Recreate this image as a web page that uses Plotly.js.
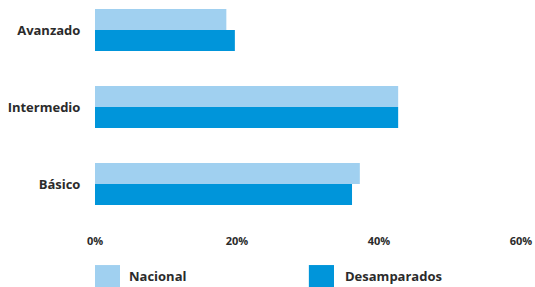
<!DOCTYPE html>
<html>
<head>
<meta charset="utf-8">
<script src="https://cdn.plot.ly/plotly-3.0.1.min.js"></script>
<style>html,body{margin:0;padding:0;background:#fff;}#chart{width:535px;height:287px;}</style>
</head>
<body>
<div id="chart"></div>
<script>
const categories = ['Avanzado', 'Intermedio', 'Básico'];
const seriesNames = ['Nacional', 'Desamparados'];
const nacional = [18.5, 42.7, 37.3];
const desamparados = [19.7, 42.7, 36.2];
const tickVals = [0, 20, 40, 60];
const tickText = ['0%', '20%', '40%', '60%'];
const colors = ['#a0d0f0', '#0095da'];

const fontFam = '"Open Sans", sans-serif';
const traces = [
  {type: 'bar', orientation: 'h', y: categories, x: nacional, name: seriesNames[0],
   marker: {color: colors[0]}, hoverinfo: 'skip', showlegend: false},
  {type: 'bar', orientation: 'h', y: categories, x: desamparados, name: seriesNames[1],
   marker: {color: colors[1]}, hoverinfo: 'skip', showlegend: false}
];

const legendX = [[0, 0.0587, 0.0751], [0.502, 0.561, 0.582]];
const shapes = [], annotations = [];
seriesNames.forEach((n, i) => {
  shapes.push({type: 'rect', xref: 'paper', yref: 'paper', x0: legendX[i][0], x1: legendX[i][1],
    y0: -0.285, y1: -0.182, fillcolor: colors[i], line: {width: 0}});
  annotations.push({xref: 'paper', yref: 'paper', x: legendX[i][2], y: -0.232, text: n,
    showarrow: false, xanchor: 'left', yanchor: 'middle',
    font: {family: fontFam, size: 13, color: '#2b2b2b', weight: 700}});
});

const layout = {
  width: 535, height: 287,
  margin: {l: 95, r: 14, t: 5, b: 62},
  paper_bgcolor: '#fff', plot_bgcolor: '#fff',
  barmode: 'group', bargap: 0.455, bargroupgap: 0,
  showlegend: false,
  xaxis: {range: [0, 60], tickvals: tickVals, ticktext: tickText, showgrid: false, zeroline: false,
    showline: false, ticks: 'outside', ticklen: 6, tickcolor: 'rgba(0,0,0,0)',
    tickfont: {family: fontFam, size: 11, color: '#2b2b2b', weight: 700}},
  yaxis: {type: 'category', categoryorder: 'array', categoryarray: categories,
    range: [2.532, -0.325], showgrid: false, zeroline: false, showline: false,
    ticks: 'outside', ticklen: 11, tickcolor: 'rgba(0,0,0,0)',
    tickfont: {family: fontFam, size: 13, color: '#2b2b2b', weight: 700}},
  shapes: shapes, annotations: annotations
};

Plotly.newPlot('chart', traces, layout, {staticPlot: true, displayModeBar: false});
</script>
</body>
</html>
